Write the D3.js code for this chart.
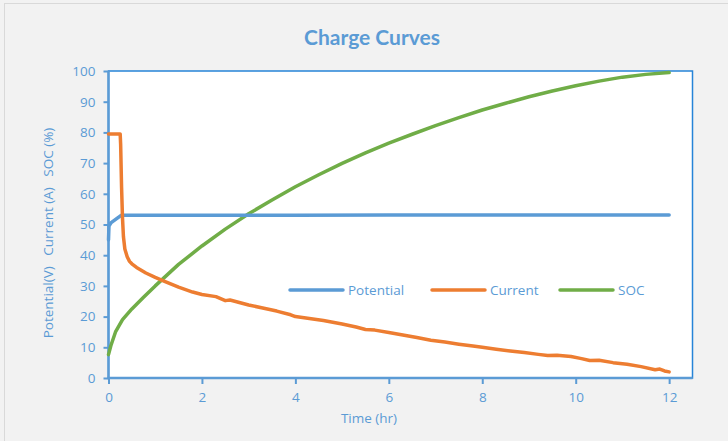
<!DOCTYPE html>
<html><head><meta charset="utf-8">
<script src="https://cdn.jsdelivr.net/npm/d3@7"></script>
<style>
html,body{margin:0;padding:0;background:#f2f2f2;}
svg{display:block;}
text{font-family:"Open Sans","Noto Sans",sans-serif;}
</style></head>
<body>
<svg id="chart" width="728" height="441"></svg>
<script>
const title = "Charge Curves";
const xTicks = [0, 2, 4, 6, 8, 10, 12];
const yTicks = [0, 10, 20, 30, 40, 50, 60, 70, 80, 90, 100];
const seriesNames = ["Potential", "Current", "SOC"];
const seriesColors = ["#5b9bd5", "#ed7d31", "#70ad47"];

const potentialTime = [0, 0.01, 0.05, 0.27, 1, 2, 4, 6, 8, 10, 12];
const potentialValues = [45, 49.5, 50.5, 53, 53, 53, 53, 53.1, 53.1, 53.1, 53.1];

const currentTime = [0, 0.25, 0.26, 0.28, 0.3, 0.32, 0.35, 0.4, 0.45, 0.5, 0.6, 0.8, 1.0, 1.2, 1.5, 1.8, 2.0, 2.3, 2.5, 2.6, 2.8, 3.0, 3.3, 3.6, 3.9, 4.0, 4.3, 4.6, 5.0, 5.3, 5.5, 5.7, 6.0, 6.3, 6.6, 6.9, 7.2, 7.5, 7.8, 8.0, 8.3, 8.6, 8.9, 9.2, 9.4, 9.6, 9.9, 10.1, 10.3, 10.5, 10.8, 11.1, 11.4, 11.7, 11.8, 11.9, 12.0];
const currentValues = [79.5, 79.5, 76, 62, 52, 46, 42, 39.5, 38, 37.2, 36, 34.2, 32.8, 31.5, 29.6, 28, 27.2, 26.5, 25.2, 25.4, 24.6, 23.8, 22.8, 21.8, 20.6, 20, 19.4, 18.7, 17.6, 16.6, 15.8, 15.6, 14.8, 14.0, 13.2, 12.3, 11.7, 11.0, 10.4, 10.0, 9.4, 8.8, 8.3, 7.7, 7.3, 7.4, 7.0, 6.4, 5.7, 5.8, 5.0, 4.5, 3.7, 2.7, 2.9, 2.3, 2.0];

const socTime = [0, 0.05, 0.15, 0.3, 0.5, 0.75, 1.0, 1.25, 1.5, 2.0, 2.5, 3.0, 3.5, 4.0, 4.5, 5.0, 5.5, 6.0, 6.5, 7.0, 7.5, 8.0, 8.5, 9.0, 9.5, 10.0, 10.5, 11.0, 11.5, 12.0];
const socValues = [7.6, 10.5, 15, 19, 22.5, 26.3, 30, 33.5, 37, 43, 48.5, 53.5, 58, 62.3, 66.2, 69.9, 73.3, 76.5, 79.4, 82.2, 84.8, 87.3, 89.5, 91.6, 93.5, 95.2, 96.7, 98.0, 98.9, 99.5];

(function () {
const svg = d3.select("#chart");
const txtColor = "#5b9bd5";

svg.append("rect").attr("x", 4.5).attr("y", 3.5).attr("width", 740).attr("height", 460)
  .attr("fill", "#f2f2f2").attr("stroke", "#d9d9d9").attr("stroke-width", 1);

const pL = 108.5, pR = 692.5, pT = 71, pB = 378;
const x = d3.scaleLinear().domain([0, 12.5]).range([pL, pR]);
const y = d3.scaleLinear().domain([0, 100]).range([pB, pT]);

svg.append("rect").attr("x", pL).attr("y", pT).attr("width", pR - pL).attr("height", pB - pT)
  .attr("fill", "#ffffff").attr("stroke", "#2684d8").attr("stroke-width", 1.5);

svg.append("text").attr("x", 372).attr("y", 45).attr("text-anchor", "middle")
  .attr("font-size", 21).attr("font-weight", "bold").attr("fill", txtColor)
  .style("font-family", "Lato, 'Open Sans', sans-serif").text(title);

const yAxis = d3.axisLeft(y).tickValues(yTicks).tickSize(5).tickPadding(8);
const gy = svg.append("g").attr("transform", `translate(${pL},0)`).call(yAxis);
const xAxis = d3.axisBottom(x).tickValues(xTicks).tickSize(6).tickPadding(8);
const gx = svg.append("g").attr("transform", `translate(0,${pB})`).call(xAxis);
[gx, gy].forEach(g => {
  g.select(".domain").remove();
  g.selectAll(".tick line").attr("stroke", txtColor).attr("stroke-width", 2);
  g.selectAll(".tick text").attr("fill", txtColor).attr("font-size", 13.5)
    .style("font-family", "'Open Sans', sans-serif");
});
svg.append("line").attr("x1", pL).attr("x2", pL).attr("y1", pT).attr("y2", pB + 1)
  .attr("stroke", txtColor).attr("stroke-width", 2.5);
svg.append("line").attr("x1", pL - 1).attr("x2", pR).attr("y1", pB).attr("y2", pB)
  .attr("stroke", txtColor).attr("stroke-width", 2.5);

svg.append("text").attr("transform", "translate(53,233) rotate(-90)").attr("text-anchor", "middle")
  .attr("font-size", 13.5).attr("fill", txtColor).attr("xml:space", "preserve")
  .text("Potential(V)   Current (A)   SOC (%)");
svg.append("text").attr("x", 369).attr("y", 423).attr("text-anchor", "middle")
  .attr("font-size", 13.5).attr("fill", txtColor).text("Time (hr)");

const line = d3.line().x(d => x(d[0])).y(d => y(d[1]));
const series = [
  d3.zip(potentialTime, potentialValues),
  d3.zip(currentTime, currentValues),
  d3.zip(socTime, socValues)
];
[2, 0, 1].forEach(i => {
  svg.append("path").datum(series[i]).attr("d", line)
    .attr("fill", "none").attr("stroke", seriesColors[i]).attr("stroke-width", 3.5)
    .attr("stroke-linejoin", "round").attr("stroke-linecap", "round");
});

const legendX = [290, 432, 560];
seriesNames.forEach((n, i) => {
  const g = svg.append("g").attr("transform", `translate(${legendX[i]},290)`);
  g.append("line").attr("x1", 0).attr("x2", 53).attr("stroke", seriesColors[i])
    .attr("stroke-width", 3.5).attr("stroke-linecap", "round");
  g.append("text").attr("x", 58).attr("y", 5).attr("font-size", 13.5).attr("fill", txtColor).text(n);
});
})();
</script>
</body></html>
